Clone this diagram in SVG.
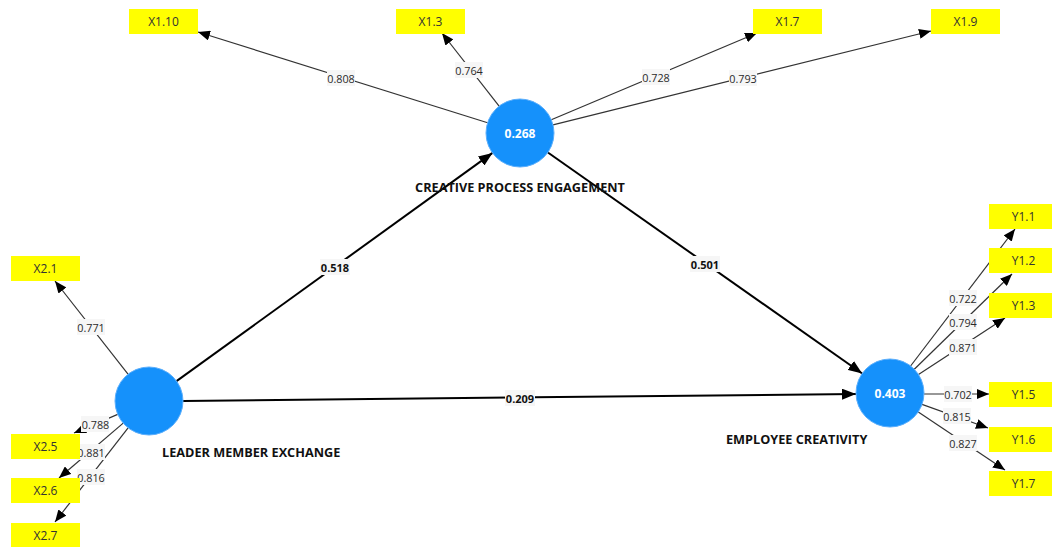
<svg xmlns="http://www.w3.org/2000/svg" width="1052" height="547" viewBox="0 0 1052 547">
<style>
.ind rect{fill:#ffff00}
.ind text{font-family:"Open Sans","Noto Sans",sans-serif;font-size:12px;fill:#333;text-anchor:middle;dominant-baseline:central}
.lv circle{fill:#1591fb;stroke:#5aaefc;stroke-width:1}
.lv .val{font-family:"Open Sans","Noto Sans",sans-serif;font-size:12px;font-weight:bold;fill:#fff;text-anchor:middle;dominant-baseline:central}
.lv .name{font-family:"Open Sans","Noto Sans",sans-serif;font-size:12.7px;font-weight:bold;fill:#111;dominant-baseline:central}
.ld{stroke:#333;stroke-width:1.2;fill:none}
.st{stroke:#000;stroke-width:2;fill:none}
.lb rect{fill:#f6f6f6}
.lb text{font-family:"Open Sans","Noto Sans",sans-serif;font-size:10.8px;fill:#2a2a2a;text-anchor:middle;dominant-baseline:central}
.lb text.b{font-weight:bold;fill:#111;font-size:11px}
</style>
<defs>
<marker id="ah" viewBox="0 0 12 10" refX="12" refY="5" markerWidth="12" markerHeight="10" markerUnits="userSpaceOnUse" orient="auto"><path d="M0,0 L12,5 L0,10 z" fill="#000"/></marker>
<marker id="ah2" viewBox="0 0 14 11" refX="14" refY="5.5" markerWidth="14" markerHeight="11" markerUnits="userSpaceOnUse" orient="auto"><path d="M0,0 L14,5.5 L0,11 z" fill="#000"/></marker>
</defs>

<g id="connectors">
<line class="ld" x1="487.6" y1="122.8" x2="198" y2="32" marker-end="url(#ah)"/>
<line class="ld" x1="499.1" y1="106.2" x2="442" y2="33" marker-end="url(#ah)"/>
<line class="ld" x1="551.3" y1="119.8" x2="757" y2="33" marker-end="url(#ah)"/>
<line class="ld" x1="553" y1="124.8" x2="931" y2="31" marker-end="url(#ah)"/>
<line class="ld" x1="128" y1="374.2" x2="55" y2="281" marker-end="url(#ah)"/>
<line class="ld" x1="117.7" y1="414.4" x2="74" y2="433" marker-end="url(#ah)"/>
<line class="ld" x1="123.2" y1="423.1" x2="59" y2="478" marker-end="url(#ah)"/>
<line class="ld" x1="128.1" y1="427.9" x2="55" y2="522" marker-end="url(#ah)"/>
<line class="ld" x1="910.6" y1="366" x2="1015" y2="229" marker-end="url(#ah)"/>
<line class="ld" x1="914.3" y1="369.3" x2="1012" y2="274" marker-end="url(#ah)"/>
<line class="ld" x1="918.5" y1="374.4" x2="1005" y2="318" marker-end="url(#ah)"/>
<line class="ld" x1="924" y1="394" x2="989" y2="394" marker-end="url(#ah)"/>
<line class="ld" x1="922" y1="404.4" x2="988" y2="428" marker-end="url(#ah)"/>
<line class="ld" x1="918.3" y1="411.9" x2="1005" y2="470" marker-end="url(#ah)"/>
<line class="st" x1="176.5" y1="381.1" x2="492.5" y2="152.9" marker-end="url(#ah2)"/>
<line class="st" x1="547.9" y1="152.5" x2="862.2" y2="373.5" marker-end="url(#ah2)"/>
<line class="st" x1="183" y1="401" x2="856" y2="394" marker-end="url(#ah2)"/>
<g class="lb">
<rect x="327" y="70" width="28" height="16"/><text x="341" y="78">0.808</text>
<rect x="455" y="62" width="28" height="16"/><text x="469" y="70">0.764</text>
<rect x="642" y="69" width="28" height="16"/><text x="656" y="77">0.728</text>
<rect x="729" y="70" width="28" height="16"/><text x="743" y="78">0.793</text>
<rect x="77" y="319" width="28" height="16"/><text x="91" y="327">0.771</text>
<rect x="81" y="416" width="28" height="16"/><text x="95.5" y="424">0.788</text>
<rect x="77" y="444" width="28" height="16"/><text x="91" y="452">0.881</text>
<rect x="77" y="469" width="28" height="16"/><text x="91" y="477">0.816</text>
<rect x="949" y="290" width="28" height="16"/><text x="963" y="298">0.722</text>
<rect x="949" y="314" width="28" height="16"/><text x="963" y="322">0.794</text>
<rect x="949" y="339" width="28" height="16"/><text x="963" y="347">0.871</text>
<rect x="944" y="386" width="28" height="16"/><text x="958" y="394">0.702</text>
<rect x="943" y="408" width="28" height="16"/><text x="957" y="416">0.815</text>
<rect x="949" y="435" width="28" height="16"/><text x="963" y="443">0.827</text>
<rect x="320" y="259" width="30" height="16"/><text class="b" x="335" y="267">0.518</text>
<rect x="690" y="256" width="30" height="16"/><text class="b" x="705" y="264">0.501</text>
<rect x="505" y="390" width="30" height="16"/><text class="b" x="520" y="398">0.209</text>
</g>
</g>

<g id="CPE" class="lv"><circle cx="520" cy="133" r="34"/><text class="val" x="520" y="133">0.268</text><text class="name" x="520" y="187" text-anchor="middle">CREATIVE PROCESS ENGAGEMENT</text></g>
<g id="LME" class="lv"><circle cx="149" cy="401" r="34"/><text class="name" x="162" y="452">LEADER MEMBER EXCHANGE</text></g>
<g id="EC" class="lv"><circle cx="890" cy="393" r="34"/><text class="val" x="890" y="393">0.403</text><text class="name" x="726" y="439">EMPLOYEE CREATIVITY</text></g>

<g id="X1.10" class="ind"><rect x="129" y="9" width="69" height="25"/><text x="163.5" y="21.5">X1.10</text></g>
<g id="X1.3" class="ind"><rect x="396" y="9" width="69" height="25"/><text x="430.5" y="21.5">X1.3</text></g>
<g id="X1.7" class="ind"><rect x="753" y="9" width="69" height="25"/><text x="787.5" y="21.5">X1.7</text></g>
<g id="X1.9" class="ind"><rect x="931" y="9" width="69" height="25"/><text x="965.5" y="21.5">X1.9</text></g>
<g id="X2.1" class="ind"><rect x="11" y="256" width="69" height="25"/><text x="45.5" y="268.5">X2.1</text></g>
<g id="X2.5" class="ind"><rect x="11" y="434" width="69" height="25"/><text x="45.5" y="446.5">X2.5</text></g>
<g id="X2.6" class="ind"><rect x="11" y="478" width="69" height="25"/><text x="45.5" y="490.5">X2.6</text></g>
<g id="X2.7" class="ind"><rect x="11" y="523" width="69" height="25"/><text x="45.5" y="535.5">X2.7</text></g>
<g id="Y1.1" class="ind"><rect x="989" y="204" width="69" height="25"/><text x="1023.5" y="216.5">Y1.1</text></g>
<g id="Y1.2" class="ind"><rect x="989" y="248" width="69" height="25"/><text x="1023.5" y="260.5">Y1.2</text></g>
<g id="Y1.3" class="ind"><rect x="989" y="293" width="69" height="25"/><text x="1023.5" y="305.5">Y1.3</text></g>
<g id="Y1.5" class="ind"><rect x="989" y="382" width="69" height="25"/><text x="1023.5" y="394.5">Y1.5</text></g>
<g id="Y1.6" class="ind"><rect x="989" y="427" width="69" height="25"/><text x="1023.5" y="439.5">Y1.6</text></g>
<g id="Y1.7" class="ind"><rect x="989" y="471" width="69" height="25"/><text x="1023.5" y="483.5">Y1.7</text></g>
</svg>
